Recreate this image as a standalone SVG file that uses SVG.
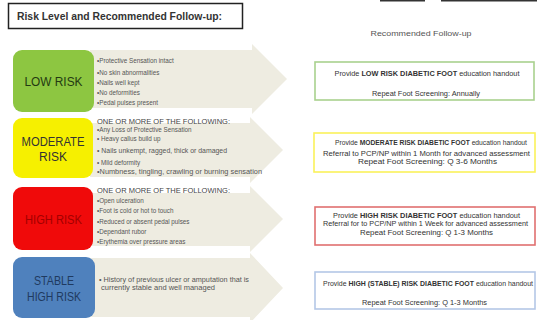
<svg xmlns="http://www.w3.org/2000/svg" width="537" height="320" viewBox="0 0 537 320">
<style>
.arrow{fill:#eeece1}
.lvl{stroke:none}
.lbl{font-family:"Liberation Sans",Arial,sans-serif;font-size:12px;text-anchor:middle}
.bul{font-family:"Liberation Sans",Arial,sans-serif;font-size:6.3px;fill:#555}
.hdr{font-family:"Liberation Sans",Arial,sans-serif;font-size:7.2px;fill:#444}
.rec{fill:#fff;stroke-width:1.6}
.rt{font-family:"Liberation Sans",Arial,sans-serif;font-size:6.8px;fill:#333;text-anchor:middle}
.b{font-weight:bold}
</style>
<rect width="537" height="320" fill="#fff"/>
<g id="title">
<rect x="8.5" y="3.5" width="234" height="25" fill="#fff" stroke="#222" stroke-width="1.5"/>
<text x="17" y="20" font-family="Liberation Sans,Arial,sans-serif" font-size="11" font-weight="bold" fill="#333" textLength="205" lengthAdjust="spacingAndGlyphs">Risk Level and Recommended Follow-up:</text>
</g>
<g id="topEdges" stroke="#333" stroke-width="1.6">
<line x1="380" y1="0.8" x2="425" y2="0.8"/>
<line x1="441" y1="0.8" x2="537" y2="0.8"/>
</g>
<g id="connectors">
<polygon class="arrow" points="90,50 252,50 252,44 287,79 252,114 252,108 90,108"/>
<polygon class="arrow" points="90,123 250,123 250,117 283,150 250,183 250,177 90,177"/>
<polygon class="arrow" points="90,193 250,193 250,186 283,219 250,252 250,246 90,246"/>
<polygon class="arrow" points="90,258 250,258 250,253 283,288 250,323 250,317 90,317"/>
</g>
<g id="low">
<rect x="13" y="50" width="81" height="62" rx="9" fill="#8dc641"/>
<text class="lbl" x="53.5" y="86" fill="#243a12" textLength="58" lengthAdjust="spacingAndGlyphs">LOW RISK</text>
<text class="bul" x="97" y="63">•Protective Sensation intact</text>
<text class="bul" x="97" y="74.5">•No skin abnormalities</text>
<text class="bul" x="97" y="84.5">•Nails well kept</text>
<text class="bul" x="97" y="95">•No deformities</text>
<text class="bul" x="97" y="105">•Pedal pulses present</text>
</g>
<g id="moderate">
<rect x="13" y="118" width="80" height="60" rx="9" fill="#f6f000"/>
<text class="lbl" x="53" y="146" fill="#333" textLength="63" lengthAdjust="spacingAndGlyphs">MODERATE</text>
<text class="lbl" x="53" y="161" fill="#333">RISK</text>
<text class="hdr" x="97" y="123.5" textLength="133" lengthAdjust="spacingAndGlyphs">ONE OR MORE OF THE FOLLOWING:</text>
<text class="bul" x="97" y="131.5">•Any Loss of Protective Sensation</text>
<text class="bul" x="97" y="140.5">• Heavy callus build up</text>
<text class="bul" x="97" y="152.5" textLength="130" lengthAdjust="spacingAndGlyphs">• Nails unkempt, ragged, thick or damaged</text>
<text class="bul" x="97" y="164.5">• Mild deformity</text>
<text class="bul" x="97" y="173.5" textLength="165" lengthAdjust="spacingAndGlyphs">•Numbness, tingling, crawling or burning sensation</text>
</g>
<g id="high">
<rect x="13" y="187" width="80" height="63" rx="9" fill="#f00a0a"/>
<text class="lbl" x="53.5" y="224" fill="#a30000" font-size="11.5" textLength="57" lengthAdjust="spacingAndGlyphs">HIGH RISK</text>
<text class="hdr" x="97" y="192.5" textLength="133" lengthAdjust="spacingAndGlyphs">ONE OR MORE OF THE FOLLOWING:</text>
<text class="bul" x="97" y="202.5">•Open ulceration</text>
<text class="bul" x="97" y="212.5">•Foot is cold or hot to touch</text>
<text class="bul" x="97" y="223.5">•Reduced or absent pedal pulses</text>
<text class="bul" x="97" y="233.5">•Dependant rubor</text>
<text class="bul" x="97" y="243.5">•Erythemia over pressure areas</text>
</g>
<g id="stable">
<rect x="13" y="257" width="82" height="61" rx="9" fill="#4f81bd"/>
<text class="lbl" x="54" y="285" fill="#1f3a60" textLength="40" lengthAdjust="spacingAndGlyphs">STABLE</text>
<text class="lbl" x="54" y="301" fill="#1f3a60" textLength="54" lengthAdjust="spacingAndGlyphs">HIGH RISK</text>
<text class="bul" x="99" y="281.5" textLength="150" lengthAdjust="spacingAndGlyphs">• History of previous ulcer or amputation that is</text>
<text class="bul" x="101" y="290" font-size="6.8" textLength="114" lengthAdjust="spacingAndGlyphs">currently stable and well managed</text>
</g>
<g id="heading">
<text x="421" y="36" font-family="Liberation Sans,Arial,sans-serif" font-size="7" fill="#555" text-anchor="middle" textLength="101" lengthAdjust="spacingAndGlyphs">Recommended Follow-up</text>
</g>
<g id="recLow">
<rect class="rec" x="315" y="62" width="219" height="38" stroke="#a9d18e"/>
<text class="rt" x="427" y="75.5" textLength="185" lengthAdjust="spacingAndGlyphs">Provide <tspan class="b">LOW RISK DIABETIC FOOT</tspan> education handout</text>
<text class="rt" x="426" y="95.5" textLength="108" lengthAdjust="spacingAndGlyphs">Repeat Foot Screening: Annually</text>
</g>
<g id="recModerate">
<rect class="rec" x="314" y="133" width="221" height="39" stroke="#fbf25a"/>
<text class="rt" x="431" y="145" font-size="5.6" textLength="192" lengthAdjust="spacingAndGlyphs">Provide <tspan class="b">MODERATE RISK DIABETIC FOOT</tspan> education handout</text>
<text class="rt" x="426.5" y="155.5" textLength="207" lengthAdjust="spacingAndGlyphs">Referral to PCP/NP within 1 Month for advanced assessment</text>
<text class="rt" x="427.5" y="163.5" textLength="139" lengthAdjust="spacingAndGlyphs">Repeat Foot Screening: Q 3-6 Months</text>
</g>
<g id="recHigh">
<rect class="rec" x="315" y="207" width="220" height="38" stroke="#e07070"/>
<text class="rt" x="426.5" y="217.5" textLength="187" lengthAdjust="spacingAndGlyphs">Provide <tspan class="b">HIGH RISK DIABETIC FOOT</tspan> education handout</text>
<text class="rt" x="425.5" y="225.5" font-size="6.2" textLength="205" lengthAdjust="spacingAndGlyphs">Referral for to PCP/NP within 1 Week for advanced assessment</text>
<text class="rt" x="426.5" y="234.5" textLength="133" lengthAdjust="spacingAndGlyphs">Repeat Foot Screening: Q 1-3 Months</text>
</g>
<g id="recStable">
<rect class="rec" x="315" y="272" width="220" height="37" stroke="#b4c7e7"/>
<text class="rt" x="428" y="285.5" textLength="210" lengthAdjust="spacingAndGlyphs">Provide <tspan class="b">HIGH (STABLE) RISK DIABETIC FOOT</tspan> education handout</text>
<text class="rt" x="424.5" y="305" font-size="6.5" textLength="125" lengthAdjust="spacingAndGlyphs">Repeat Foot Screening: Q 1-3 Months</text>
</g>
</svg>
